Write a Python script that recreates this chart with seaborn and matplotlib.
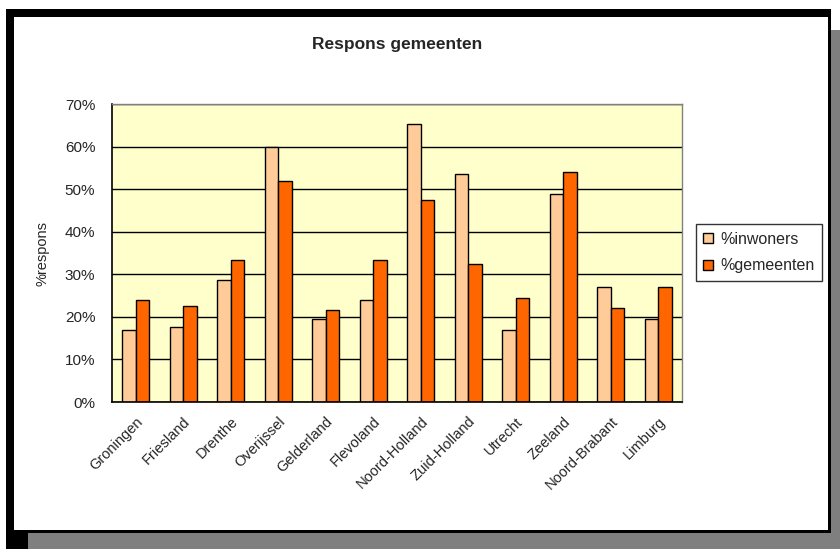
import matplotlib
matplotlib.use("Agg")
import matplotlib.pyplot as plt
from matplotlib.patches import Rectangle, Patch
from matplotlib.ticker import PercentFormatter, FixedLocator
import seaborn as sns
import pandas as pd

provinces = ["Groningen", "Friesland", "Drenthe", "Overijssel", "Gelderland",
             "Flevoland", "Noord-Holland", "Zuid-Holland", "Utrecht", "Zeeland",
             "Noord-Brabant", "Limburg"]
inwoners = [0.170, 0.177, 0.287, 0.600, 0.196, 0.240, 0.654, 0.535, 0.170, 0.489, 0.271, 0.196]
gemeenten = [0.240, 0.226, 0.334, 0.520, 0.217, 0.334, 0.475, 0.324, 0.244, 0.541, 0.220, 0.271]
series_names = ["%inwoners", "%gemeenten"]
colors = ["#FFCC99", "#FF6600"]
y_ticks = [0.0, 0.1, 0.2, 0.3, 0.4, 0.5, 0.6, 0.7]

df = pd.DataFrame({
    "provincie": provinces * 2,
    "pct": inwoners + gemeenten,
    "serie": [series_names[0]] * len(provinces) + [series_names[1]] * len(provinces),
})

sns.set_style("white")
plt.rcParams["font.family"] = ["Liberation Sans", "DejaVu Sans"]

W, H = 840, 549
fig = plt.figure(figsize=(W / 100, H / 100), dpi=100, facecolor="white")


def px_rect(x1, y1, x2, y2, color, z):
    fig.add_artist(Rectangle((x1 / W, 1 - y2 / H), (x2 - x1) / W, (y2 - y1) / H,
                             transform=fig.transFigure, facecolor=color,
                             edgecolor="none", zorder=z))


px_rect(28, 30, 840, 549, "#7f7f7f", -20)
px_rect(6, 9, 831, 533, "black", -19)
px_rect(6, 533, 28, 549, "black", -19)
px_rect(14, 17, 828, 530, "white", -18)

ax = fig.add_axes([112 / W, 1 - 402 / H, 570 / W, 298 / H])
ax.set_facecolor("#FFFFCC")

sns.barplot(data=df, x="provincie", y="pct", hue="serie", palette=colors,
            width=0.57, edgecolor="black", linewidth=1.0, saturation=1,
            legend=False, ax=ax)

ax.set_xlim(-0.5, len(provinces) - 0.5)
ax.set_ylim(0, 0.7)
ax.yaxis.set_major_locator(FixedLocator(y_ticks))
ax.yaxis.set_major_formatter(PercentFormatter(1, decimals=0))
ax.set_axisbelow(True)
ax.yaxis.grid(True, color="black", linewidth=1.0)
ax.xaxis.grid(False)

ax.set_xticks(range(len(provinces)))
ax.set_xticklabels(provinces, rotation=45, ha="right", rotation_mode="anchor", fontsize=10.5)
ax.set_xticks([i - 0.5 for i in range(len(provinces) + 1)], minor=True)
ax.tick_params(axis="x", which="major", length=0, pad=9)
ax.tick_params(axis="x", which="minor", length=4, width=1, color="black", direction="out")
ax.tick_params(axis="y", length=4, width=1, color="black", direction="out", pad=8, labelsize=11)

for s in ["left", "bottom"]:
    ax.spines[s].set_color("black")
    ax.spines[s].set_linewidth(1.2)
for s in ["top", "right"]:
    ax.spines[s].set_visible(True)
    ax.spines[s].set_color("#808080")
    ax.spines[s].set_linewidth(1.0)

ax.set_xlabel("")
ax.set_ylabel("%respons", fontsize=10.5)
ax.yaxis.set_label_coords((50 - 112) / 570, 0.5)

fig.text(397 / W, 1 - 45 / H, "Respons gemeenten", ha="center", va="center",
         fontsize=12.5, fontweight="bold")

handles = [Patch(facecolor=c, edgecolor="black", linewidth=1) for c in colors]
leg = fig.legend(handles, series_names, loc="center left",
                 bbox_to_anchor=(696 / W, 1 - 252.5 / H), bbox_transform=fig.transFigure,
                 frameon=True, fancybox=False, edgecolor="black", fontsize=11.5,
                 handlelength=0.6, handleheight=0.6, handletextpad=0.5,
                 borderpad=0.45, labelspacing=0.75, borderaxespad=0)
leg.get_frame().set_linewidth(1.0)

fig.savefig("out.png", dpi=100, facecolor="white")
